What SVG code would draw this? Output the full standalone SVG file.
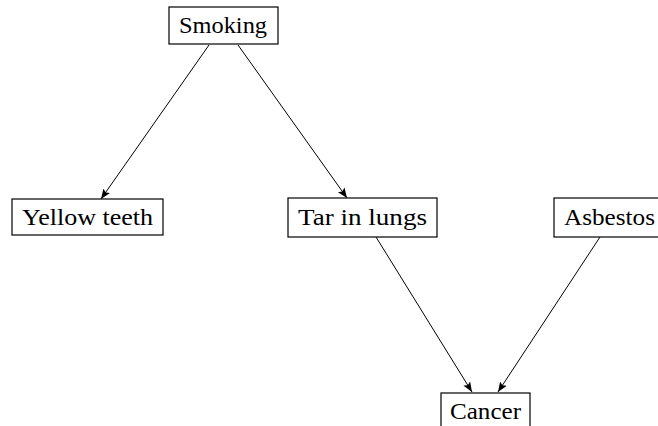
<svg xmlns="http://www.w3.org/2000/svg" width="658" height="426" viewBox="0 0 658 426">
<style>
.box{fill:#fff;stroke:#000;stroke-width:1.2}
.lbl{font-family:"Liberation Serif","DejaVu Serif",serif;font-size:23px;fill:#000}
.edge{stroke:#000;stroke-width:1;fill:none;marker-end:url(#ah)}
</style>
<defs>
<marker id="ah" viewBox="0 0 10 10" refX="10" refY="5" markerWidth="10" markerHeight="10" markerUnits="userSpaceOnUse" orient="auto">
<path d="M0,1 L10,5 L0,9 L2,5 Z" fill="#000"/>
</marker>
</defs>
<g id="connectors">
<line class="edge" x1="209" y1="45" x2="101" y2="199"/>
<line class="edge" x1="238" y1="45" x2="347" y2="198"/>
<line class="edge" x1="376" y1="237" x2="472" y2="392"/>
<line class="edge" x1="600" y1="237" x2="498" y2="392"/>
</g>
<g id="smoking">
<rect class="box" x="169" y="7" width="109" height="37"/>
<text class="lbl" x="179" y="33" textLength="88" lengthAdjust="spacingAndGlyphs">Smoking</text>
</g>
<g id="yellow-teeth">
<rect class="box" x="12" y="199" width="151" height="36"/>
<text class="lbl" x="22" y="225" textLength="131" lengthAdjust="spacingAndGlyphs">Yellow teeth</text>
</g>
<g id="tar-in-lungs">
<rect class="box" x="288" y="198" width="149" height="39"/>
<text class="lbl" x="298" y="225" textLength="129" lengthAdjust="spacingAndGlyphs">Tar in lungs</text>
</g>
<g id="asbestos">
<rect class="box" x="554" y="198" width="110" height="39"/>
<text class="lbl" x="564" y="225" textLength="91" lengthAdjust="spacingAndGlyphs">Asbestos</text>
</g>
<g id="cancer">
<rect class="box" x="441" y="393" width="89" height="40"/>
<text class="lbl" x="450" y="419" textLength="71" lengthAdjust="spacingAndGlyphs">Cancer</text>
</g>
</svg>
